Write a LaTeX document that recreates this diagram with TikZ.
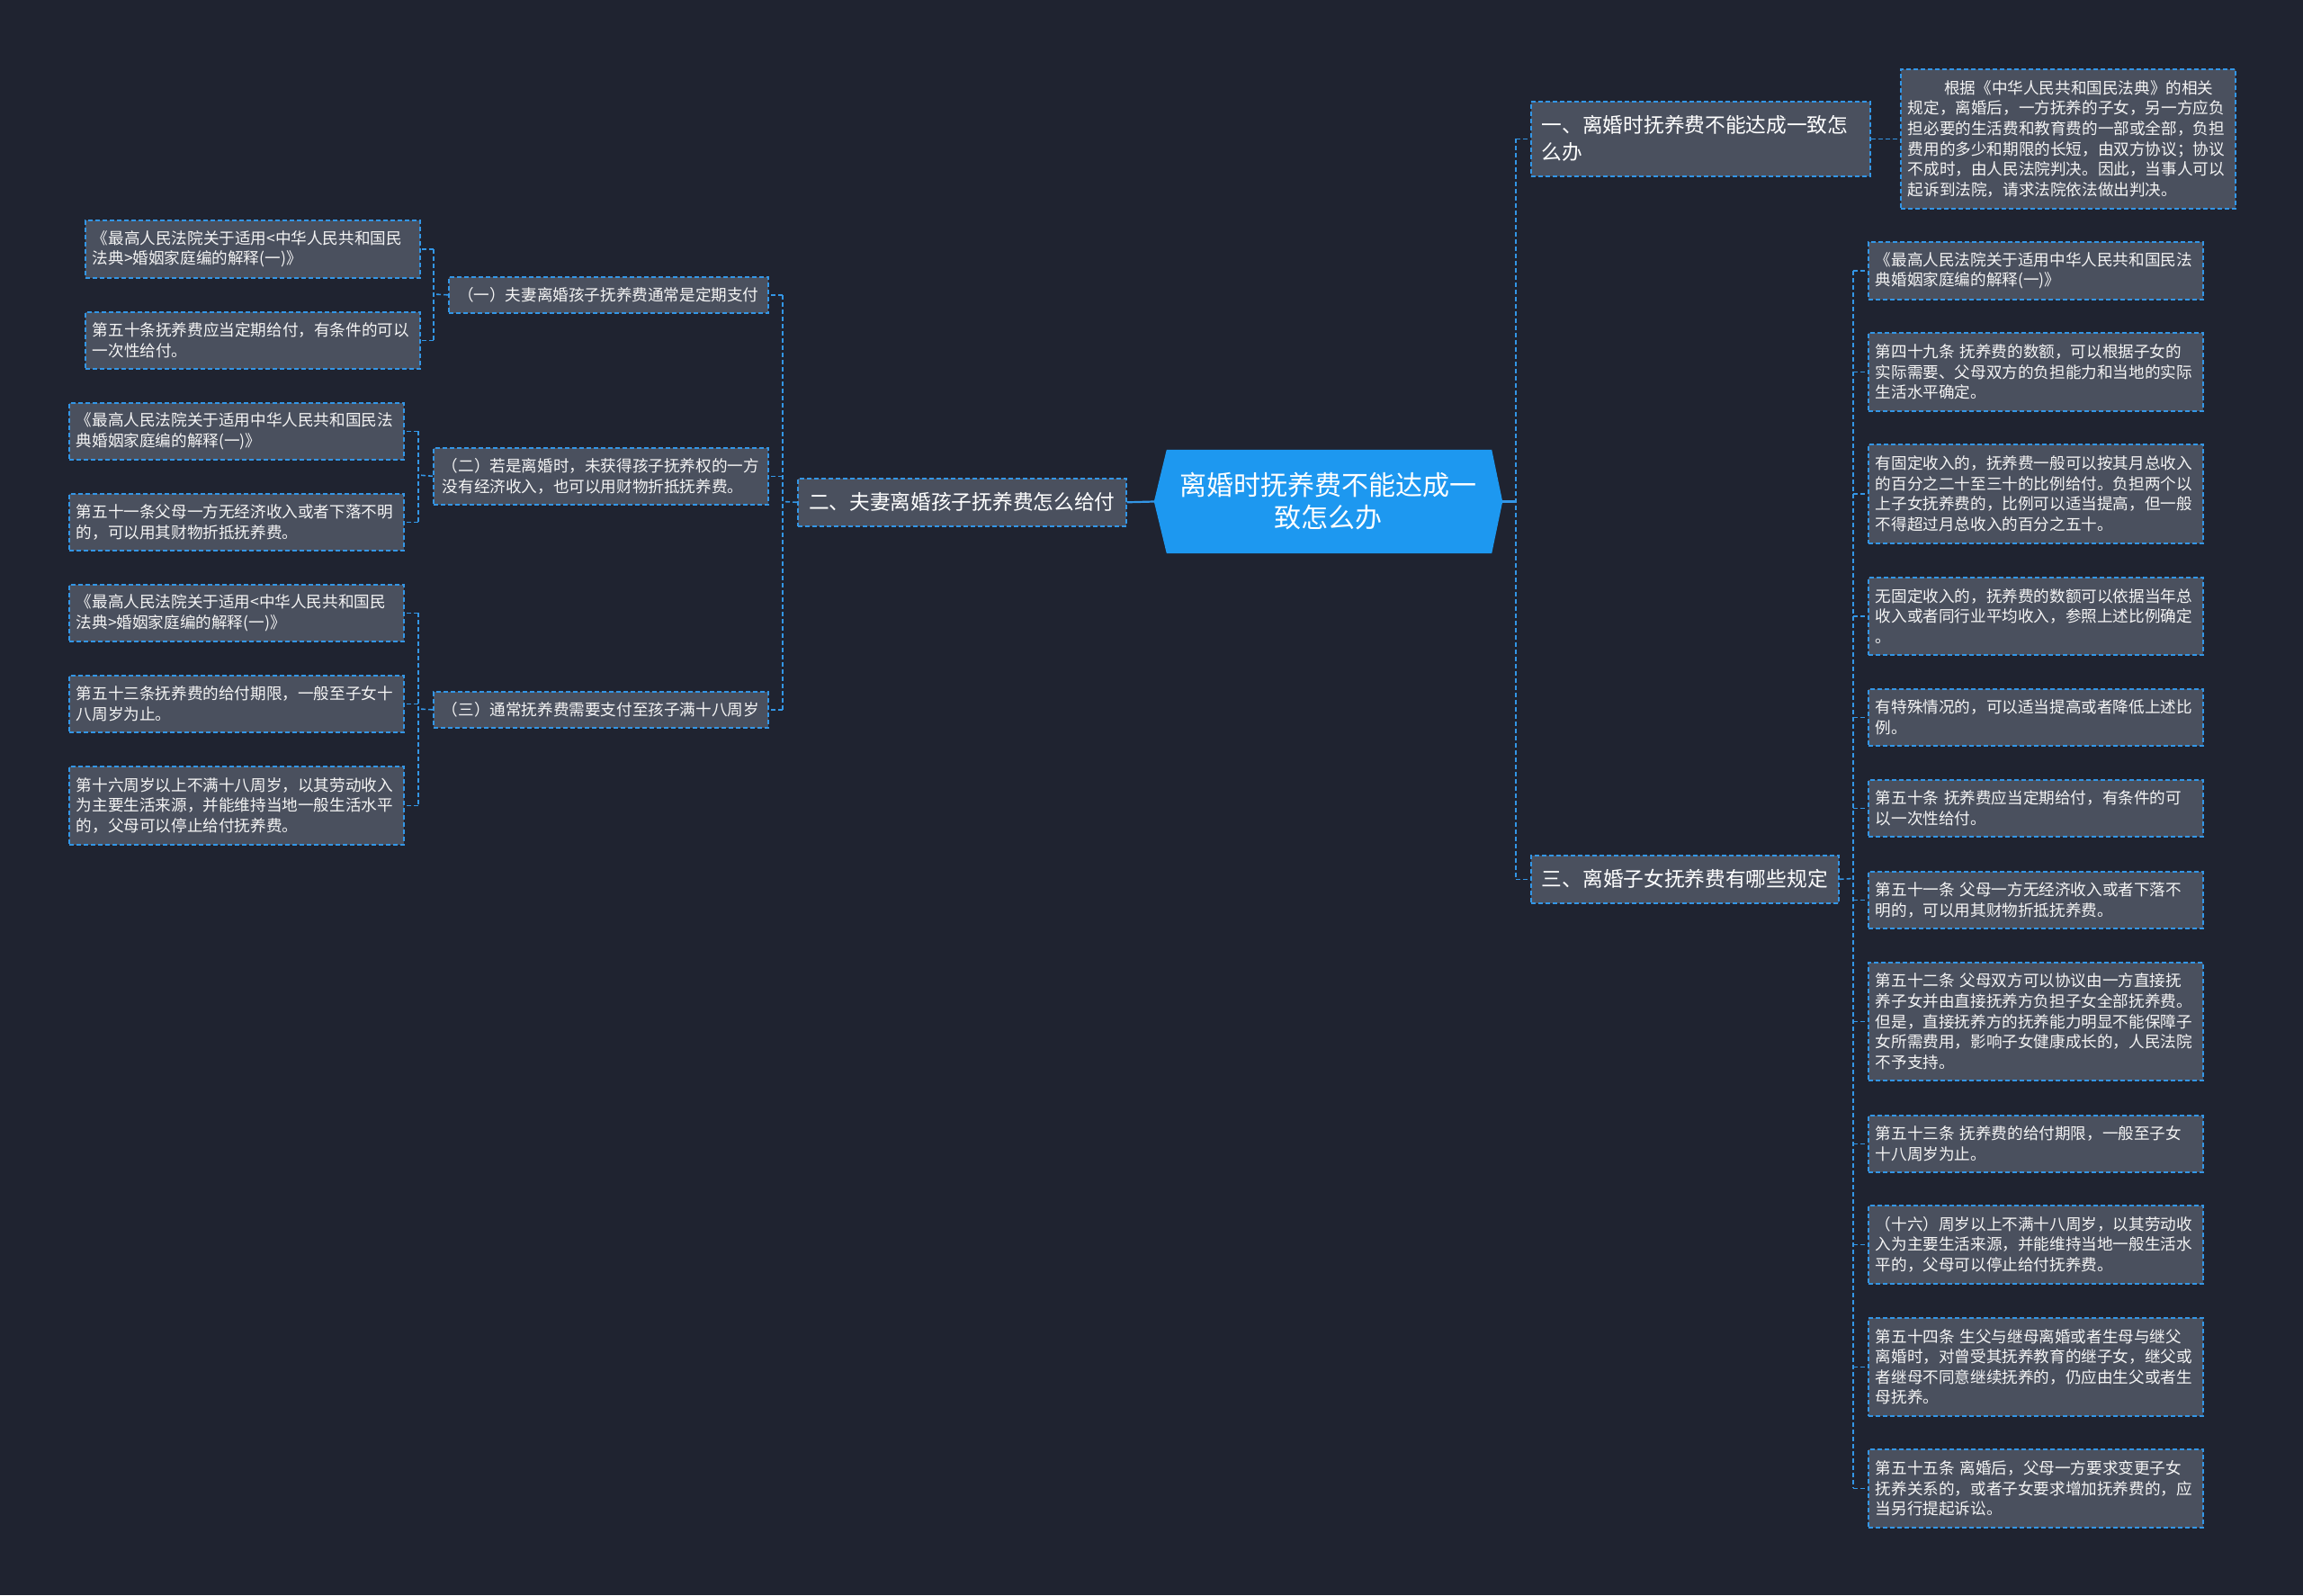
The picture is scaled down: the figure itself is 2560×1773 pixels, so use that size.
\documentclass[tikz,border=0pt]{standalone}
\usepackage{fontspec}
\setmainfont{Noto Sans CJK SC}
\usetikzlibrary{calc}
\definecolor{bgc}{HTML}{1F2330}
\definecolor{boxc}{HTML}{4A505E}
\definecolor{linec}{HTML}{3396E6}
\definecolor{cenc}{HTML}{1D98F0}
\definecolor{txtc}{HTML}{F4F4F4}
\pgfdeclarelayer{canvas}
\pgfdeclarelayer{under}
\pgfsetlayers{canvas,under,main}
\tikzset{
  boxbase/.style={draw=linec, fill=boxc, dash pattern=on 5pt off 3pt, line width=1.6pt, text=txtc, anchor=north west, inner ysep=0pt},
  leaf/.style={boxbase, font=\fontsize{17.6pt}{22.6pt}\selectfont, text width=356pt, inner xsep=8pt, align=left},
  midbox/.style={boxbase, font=\fontsize{17.6pt}{22.6pt}\selectfont, inner xsep=8pt, align=left},
  topbox/.style={boxbase, text=white, font=\fontsize{22.7pt}{30pt}\selectfont, inner xsep=12pt, align=left},
  cnode/.style={text=white, font=\fontsize{30pt}{36pt}\selectfont, align=center, minimum width=387pt, minimum height=115pt, inner sep=0pt},
  conn/.style={draw=linec, line width=1.6pt, dash pattern=on 5pt off 3pt},
  cconn/.style={draw=linec, line width=2.2pt}
}
\begin{document}
\begin{tikzpicture}[x=1pt,y=-1pt]
\begin{pgfonlayer}{canvas}
\fill[bgc] (0,0) rectangle (2560,1773);
\end{pgfonlayer}
\useasboundingbox (0,0) rectangle (2560,1773);

% center
\node[cnode] (c) at (1476.5,557.5) {离婚时抚养费不能达成一\\致怎么办};
\begin{pgfonlayer}{under}
\fill[cenc] (c.west) -- ($(c.north west)+(14,0)$) -- ($(c.north east)+(-12,0)$) -- (c.east) -- ($(c.south east)+(-12,0)$) -- ($(c.south west)+(14,0)$) -- cycle;
\end{pgfonlayer}

% level 1
\node[topbox, text width=353pt, minimum height=83pt] (n1) at (1701,112) {一、离婚时抚养费不能达成一致怎\\么办};
\node[topbox, minimum width=342pt, minimum height=53pt] (n3) at (1701,950) {三、离婚子女抚养费有哪些规定};
\node[topbox, minimum width=365pt, minimum height=53pt] (n2) at (886,531) {二、夫妻离婚孩子抚养费怎么给付};

% right leaves
\node[leaf, minimum height=155pt] (L0) at (2112,76) {\hspace*{2.3em}根据《中华人民共和国民法典》的相关\\规定，离婚后，一方抚养的子女，另一方应负\\担必要的生活费和教育费的一部或全部，负担\\费用的多少和期限的长短，由双方协议；协议\\不成时，由人民法院判决。因此，当事人可以\\起诉到法院，请求法院依法做出判决。};
\node[leaf, minimum height=64pt] (r1) at (2076,268) {《最高人民法院关于适用中华人民共和国民法\\典婚姻家庭编的解释(一)》};
\node[leaf, minimum height=87pt] (r2) at (2076,369) {第四十九条 抚养费的数额，可以根据子女的\\实际需要、父母双方的负担能力和当地的实际\\生活水平确定。};
\node[leaf, minimum height=110pt] (r3) at (2076,493) {有固定收入的，抚养费一般可以按其月总收入\\的百分之二十至三十的比例给付。负担两个以\\上子女抚养费的，比例可以适当提高，但一般\\不得超过月总收入的百分之五十。};
\node[leaf, minimum height=86pt] (r4) at (2076,641) {无固定收入的，抚养费的数额可以依据当年总\\收入或者同行业平均收入，参照上述比例确定\\。};
\node[leaf, minimum height=63pt] (r5) at (2076,765) {有特殊情况的，可以适当提高或者降低上述比\\例。};
\node[leaf, minimum height=63pt] (r6) at (2076,866) {第五十条 抚养费应当定期给付，有条件的可\\以一次性给付。};
\node[leaf, minimum height=63pt] (r7) at (2076,968) {第五十一条 父母一方无经济收入或者下落不\\明的，可以用其财物折抵抚养费。};
\node[leaf, minimum height=131pt] (r8) at (2076,1069) {第五十二条 父母双方可以协议由一方直接抚\\养子女并由直接抚养方负担子女全部抚养费。\\但是，直接抚养方的抚养能力明显不能保障子\\女所需费用，影响子女健康成长的，人民法院\\不予支持。};
\node[leaf, minimum height=63pt] (r9) at (2076,1239) {第五十三条 抚养费的给付期限，一般至子女\\十八周岁为止。};
\node[leaf, minimum height=87pt] (r10) at (2076,1339) {（十六）周岁以上不满十八周岁，以其劳动收\\入为主要生活来源，并能维持当地一般生活水\\平的，父母可以停止给付抚养费。};
\node[leaf, minimum height=109pt] (r11) at (2076,1464) {第五十四条 生父与继母离婚或者生母与继父\\离婚时，对曾受其抚养教育的继子女，继父或\\者继母不同意继续抚养的，仍应由生父或者生\\母抚养。};
\node[leaf, minimum height=87pt] (r12) at (2076,1610) {第五十五条 离婚后，父母一方要求变更子女\\抚养关系的，或者子女要求增加抚养费的，应\\当另行提起诉讼。};

% left level 2
\node[midbox, minimum width=355pt, minimum height=40pt] (ma) at (498,307) {（一）夫妻离婚孩子抚养费通常是定期支付};
\node[midbox, minimum width=372pt, minimum height=63pt] (mb) at (481,497) {（二）若是离婚时，未获得孩子抚养权的一方\\没有经济收入，也可以用财物折抵抚养费。};
\node[midbox, minimum width=372pt, minimum height=40pt] (mc) at (481,768) {（三）通常抚养费需要支付至孩子满十八周岁};

% left leaves
\node[leaf, minimum height=64pt] (a1) at (94,244) {《最高人民法院关于适用<中华人民共和国民\\法典>婚姻家庭编的解释(一)》};
\node[leaf, minimum height=63pt] (a2) at (94,346) {第五十条抚养费应当定期给付，有条件的可以\\一次性给付。};
\node[leaf, minimum height=63pt] (b1) at (76,447) {《最高人民法院关于适用中华人民共和国民法\\典婚姻家庭编的解释(一)》};
\node[leaf, minimum height=63pt] (b2) at (76,548) {第五十一条父母一方无经济收入或者下落不明\\的，可以用其财物折抵抚养费。};
\node[leaf, minimum height=63pt] (c1) at (76,649) {《最高人民法院关于适用<中华人民共和国民\\法典>婚姻家庭编的解释(一)》};
\node[leaf, minimum height=63pt] (c2) at (76,750) {第五十三条抚养费的给付期限，一般至子女十\\八周岁为止。};
\node[leaf, minimum height=87pt] (c3) at (76,851) {第十六周岁以上不满十八周岁，以其劳动收入\\为主要生活来源，并能维持当地一般生活水平\\的，父母可以停止给付抚养费。};

% spine coordinates
\coordinate (sR) at (1685,557.5);
\coordinate (s3) at (2060,976.5);
\coordinate (sL) at (870,557.5);
\coordinate (sa) at (482,327);
\coordinate (sb) at (465,528);
\coordinate (sc) at (465,788);

% right connectors
\draw[cconn] (c.east) -- (sR);
\draw[conn] (sR |- n1.west) -- (sR |- n3.west);
\draw[conn] (sR |- n1.west) -- (n1.west);
\draw[conn] (sR |- n3.west) -- (n3.west);
\draw[conn] (n1.east) -- (L0.west |- n1.east);
\draw[conn] (n3.east) -- (s3);
\draw[conn] (s3 |- r1.west) -- (s3 |- r12.west);
\foreach \r in {r1,r2,r3,r4,r5,r6,r7,r8,r9,r10,r11,r12}{
  \draw[conn] (s3 |- \r.west) -- (\r.west);
}

% left connectors
\draw[cconn] (c.west) -- (n2.east);
\draw[conn] (n2.west) -- (sL);
\draw[conn] (sL |- ma.east) -- (sL |- mc.east);
\foreach \m in {ma,mb,mc}{
  \draw[conn] (sL |- \m.east) -- (\m.east);
}
\draw[conn] (ma.west) -- (sa);
\draw[conn] (sa |- a1.east) -- (sa |- a2.east);
\foreach \l in {a1,a2}{ \draw[conn] (sa |- \l.east) -- (\l.east); }
\draw[conn] (mb.west) -- (sb);
\draw[conn] (sb |- b1.east) -- (sb |- b2.east);
\foreach \l in {b1,b2}{ \draw[conn] (sb |- \l.east) -- (\l.east); }
\draw[conn] (mc.west) -- (sc);
\draw[conn] (sc |- c1.east) -- (sc |- c3.east);
\foreach \l in {c1,c2,c3}{ \draw[conn] (sc |- \l.east) -- (\l.east); }
\end{tikzpicture}
\end{document}
